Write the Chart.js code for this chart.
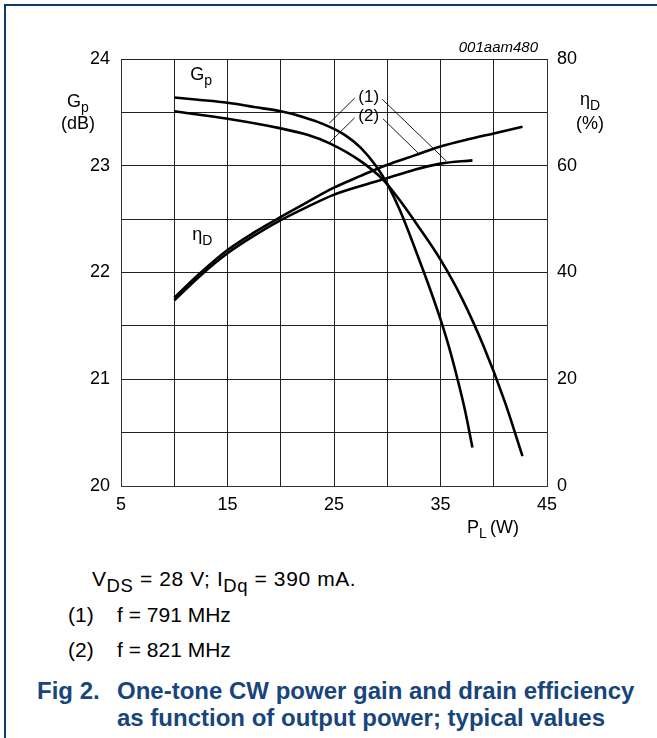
<!DOCTYPE html>
<html>
<head>
<meta charset="utf-8">
<script src="https://cdn.jsdelivr.net/npm/chart.js@4.4.1/dist/chart.umd.min.js"></script>
<style>
  body { margin: 0; background: #fff; font-family: 'Liberation Sans', Arial, sans-serif; }
  #frame { position: absolute; left: 4px; top: 4px; width: 700px; height: 800px;
           border-top: 2px solid #0d3b6e; border-left: 2px solid #0d3b6e; }
  #wrap { position: absolute; left: 0; top: 0; width: 657px; height: 540px; }
  .cap { position: absolute; font-size: 21px; color: #000; white-space: nowrap; line-height: 26px; }
  .fig { position: absolute; font-weight: bold; color: #17457c; font-size: 24px; line-height: 27px; white-space: nowrap; }
  sub { font-size: 0.88em; vertical-align: -0.3em; line-height: 0; }
</style>
</head>
<body>
<div id="frame"></div>
<div id="wrap"><canvas id="chart" width="657" height="540"></canvas></div>

<div class="cap" style="left:92px;top:566px;letter-spacing:0.6px">V<sub>DS</sub> = 28 V; I<sub>Dq</sub> = 390 mA.</div>
<div class="cap" style="left:68px;top:602px">(1)</div>
<div class="cap" style="left:117px;top:602px">f = 791 MHz</div>
<div class="cap" style="left:68px;top:637px">(2)</div>
<div class="cap" style="left:117px;top:637px">f = 821 MHz</div>
<div class="fig" style="left:37px;top:677px">Fig 2.</div>
<div class="fig" style="left:117px;top:677px">One-tone CW power gain and drain efficiency<br>as function of output power; typical values</div>

<script>
// output power P_L (W) and gain G_p (dB), curve (1) f = 791 MHz
const gp1X = [10, 12, 15, 17.5, 20, 22, 24, 26, 27.5, 29, 30, 31.2, 33, 34, 35, 35.8, 36.6, 37.3, 38]
const gp1Y = [23.64, 23.62, 23.59, 23.55, 23.51, 23.46, 23.39, 23.29, 23.17, 22.99, 22.83, 22.58, 22.12, 21.85, 21.56, 21.3, 21.0, 20.71, 20.36]
// curve (2) f = 821 MHz
const gp2X = [10, 15, 20, 22.5, 24.6, 27.4, 29.6, 31, 33, 35, 37, 39, 41, 42.7]
const gp2Y = [23.51, 23.44, 23.35, 23.29, 23.21, 23.05, 22.87, 22.7, 22.42, 22.12, 21.76, 21.32, 20.8, 20.28]

// drain efficiency (%)
const eff1X = [10, 12.5, 15, 17.5, 20, 22.5, 24.9, 27.5, 29.9, 32.5, 35, 38]
const eff1Y = [34.8, 39.5, 43.6, 46.9, 49.8, 52.3, 54.5, 56.2, 57.6, 59.2, 60.4, 61.0]
const eff2X = [10, 12.5, 15, 17.5, 20, 22.5, 24.9, 27.5, 29.9, 32.5, 35, 37.5, 40.1, 42.7]
const eff2Y = [35.3, 40.0, 44.2, 47.5, 50.4, 53.2, 55.8, 58.1, 60.1, 61.9, 63.6, 64.9, 66.1, 67.3]

const xLabels = [5, 15, 25, 35, 45]
const gpLabels = [20, 21, 22, 23, 24]
const effLabels = [0, 20, 40, 60, 80]

const pts = (xs, ys) => xs.map((x, i) => ({ x: x, y: ys[i] }))

const FONT = "'Liberation Sans', Arial, sans-serif"

function line(data, axis) {
  return {
    data: data,
    yAxisID: axis,
    borderColor: '#000',
    borderWidth: 2.6,
    pointRadius: 0,
    fill: false,
    cubicInterpolationMode: 'monotone'
  }
}

// text with a subscript, drawn on the canvas
function subText(ctx, main, sub, x, y, size, align) {
  ctx.font = size + 'px ' + FONT
  const w1 = ctx.measureText(main).width
  ctx.font = Math.round(size * 0.75) + 'px ' + FONT
  const w2 = ctx.measureText(sub).width
  let left = x
  if (align === 'center') left = x - (w1 + w2) / 2
  if (align === 'right') left = x - w1 - w2
  ctx.textAlign = 'left'
  ctx.font = size + 'px ' + FONT
  ctx.fillText(main, left, y)
  ctx.font = Math.round(size * 0.75) + 'px ' + FONT
  ctx.fillText(sub, left + w1, y + size * 0.25)
}

const textPlugin = {
  id: 'texts',
  afterDraw(chart) {
    const { ctx, scales } = chart
    const x = scales.x, y = scales.y
    ctx.save()
    ctx.fillStyle = '#000'
    ctx.textBaseline = 'alphabetic'

    // axis titles
    subText(ctx, 'G', 'p', 78, 107, 18, 'center')
    ctx.font = '18px ' + FONT
    ctx.textAlign = 'center'
    ctx.fillText('(dB)', 78, 129)
    subText(ctx, '\u03b7', 'D', 590, 105, 18, 'center')
    ctx.textAlign = 'center'
    ctx.font = '18px ' + FONT
    ctx.fillText('(%)', 590, 129)
    subText(ctx, 'P', 'L', 467, 533, 18, 'left')
    ctx.font = '18px ' + FONT
    ctx.textAlign = 'left'
    ctx.fillText('(W)', 490, 533)

    // figure code
    ctx.font = 'italic 15px ' + FONT
    ctx.textAlign = 'right'
    ctx.fillText('001aam480', 538, 52)

    // curve labels
    subText(ctx, 'G', 'p', x.getPixelForValue(11.5), y.getPixelForValue(23.8), 18, 'left')
    subText(ctx, '\u03b7', 'D', x.getPixelForValue(11.7), y.getPixelForValue(22.3), 18, 'left')

    ctx.font = '17px ' + FONT
    ctx.textAlign = 'center'
    ctx.textBaseline = 'middle'
    ctx.fillText('(1)', x.getPixelForValue(28.26), y.getPixelForValue(23.64))
    ctx.fillText('(2)', x.getPixelForValue(28.26), y.getPixelForValue(23.46))

    // leader lines [x1, g1, x2, g2]
    const leaders = [
      [26.95, 23.635, 24.54, 23.397],
      [29.54, 23.622, 35.55, 23.044],
      [26.95, 23.45, 24.6, 23.22],
      [29.6, 23.44, 32.89, 23.12]
    ]
    ctx.strokeStyle = '#000'
    ctx.lineWidth = 0.9
    leaders.forEach(l => {
      ctx.beginPath()
      ctx.moveTo(x.getPixelForValue(l[0]), y.getPixelForValue(l[1]))
      ctx.lineTo(x.getPixelForValue(l[2]), y.getPixelForValue(l[3]))
      ctx.stroke()
    })
    ctx.restore()
  }
}

const tickFont = { family: FONT, size: 18 }

new Chart(document.getElementById('chart'), {
  type: 'line',
  data: {
    datasets: [
      line(pts(gp1X, gp1Y), 'y'),
      line(pts(gp2X, gp2Y), 'y'),
      line(pts(eff1X, eff1Y), 'y2'),
      line(pts(eff2X, eff2Y), 'y2')
    ]
  },
  options: {
    responsive: false,
    animation: false,
    layout: { padding: { top: 59, left: 0, right: 0, bottom: 0 } },
    plugins: { legend: { display: false }, tooltip: { enabled: false } },
    scales: {
      x: {
        type: 'linear',
        min: 5,
        max: 45,
        afterFit: s => { s.height = 54 },
        ticks: {
          stepSize: 5,
          color: '#000',
          font: tickFont,
          padding: 8,
          maxRotation: 0,
          callback: v => xLabels.includes(v) ? String(v) : ''
        },
        grid: { color: '#222', lineWidth: 1, drawTicks: false },
        border: { color: '#333', width: 1 }
      },
      y: {
        position: 'left',
        min: 20,
        max: 24,
        afterFit: s => { s.width = 121 },
        ticks: {
          stepSize: 0.5,
          color: '#000',
          font: tickFont,
          padding: 11,
          callback: v => gpLabels.includes(v) ? String(v) : ''
        },
        grid: { color: '#222', lineWidth: 1, drawTicks: false },
        border: { color: '#333', width: 1 }
      },
      y2: {
        position: 'right',
        min: 0,
        max: 80,
        afterFit: s => { s.width = 110 },
        ticks: {
          stepSize: 20,
          color: '#000',
          font: tickFont,
          padding: 10,
          callback: v => effLabels.includes(v) ? String(v) : ''
        },
        grid: { display: false, drawTicks: false },
        border: { color: '#333', width: 1 }
      }
    }
  },
  plugins: [textPlugin]
})
</script>
</body>
</html>
